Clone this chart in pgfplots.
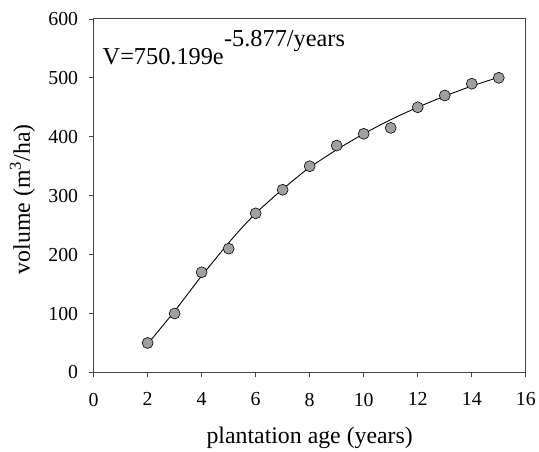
\documentclass[border=0pt]{standalone}
\usepackage{pgfplots}
\pgfplotsset{compat=1.18}
\usepackage{fontspec}
\setmainfont{Liberation Serif}
\definecolor{mk}{RGB}{160,160,160}
\definecolor{ax}{RGB}{70,70,70}
\begin{document}
\begin{tikzpicture}
\begin{axis}[
 width=434bp, height=355bp, scale only axis,
 xmin=0, xmax=16, ymin=0, ymax=600,
 xtick={0,2,...,16}, ytick={0,100,...,600},
 tick align=outside, xtick pos=left, ytick pos=left,
 major tick length=5bp,
 axis line style={ax, line width=1bp},
 every tick/.style={ax, line width=0.8bp},
 tick label style={font=\fontsize{20}{24}\selectfont, black},
 xticklabel style={yshift=-12bp},
 yticklabel style={xshift=-7bp},
 /pgf/number format/assume math mode=true,
 xlabel={plantation age (years)},
 ylabel={volume (m\textsuperscript{3}/ha)},
 label style={font=\fontsize{24}{28}\selectfont},
 xlabel style={at={(axis description cs:0.5,-0.185)}, anchor=center},
 ylabel style={at={(axis description cs:-0.165,0.49)}, anchor=center},
 clip=false,
]
\addplot[only marks, mark=*, mark size=5.5bp, mark options={fill=mk, draw=black, line width=0.6bp}]
 coordinates {(2,50)(3,100)(4,170)(5,210)(6,270)(7,310)(8,350)(9,385)(10,405)(11,415)(12,450)(13,470)(14,490)(15,500)};
\addplot[black, line width=0.9bp, smooth, no marks]
 coordinates {(2,48)(2.5,76)(3,104)(3.5,134)(4,164)(4.5,192)(5,220)(5.5,246)(6,270)(6.5,291)(7,311)(7.5,330)(8,348)(9,378)(10,405)(11,429)(12,450)(13,469)(14,486)(15,501)};
\node[anchor=base west, font=\fontsize{24.5}{28}\selectfont, inner sep=0pt] (vv) at (axis cs:0.33,522) {V=750.199e};
\node[anchor=base west, font=\fontsize{24.5}{28}\selectfont, inner sep=0pt] at ([yshift=18bp]vv.base east) {-5.877/years};
\end{axis}
\path ([xshift=-94bp,yshift=-75bp]current axis.south west) rectangle ([xshift=11bp,yshift=19bp]current axis.north east);
\end{tikzpicture}
\end{document}
